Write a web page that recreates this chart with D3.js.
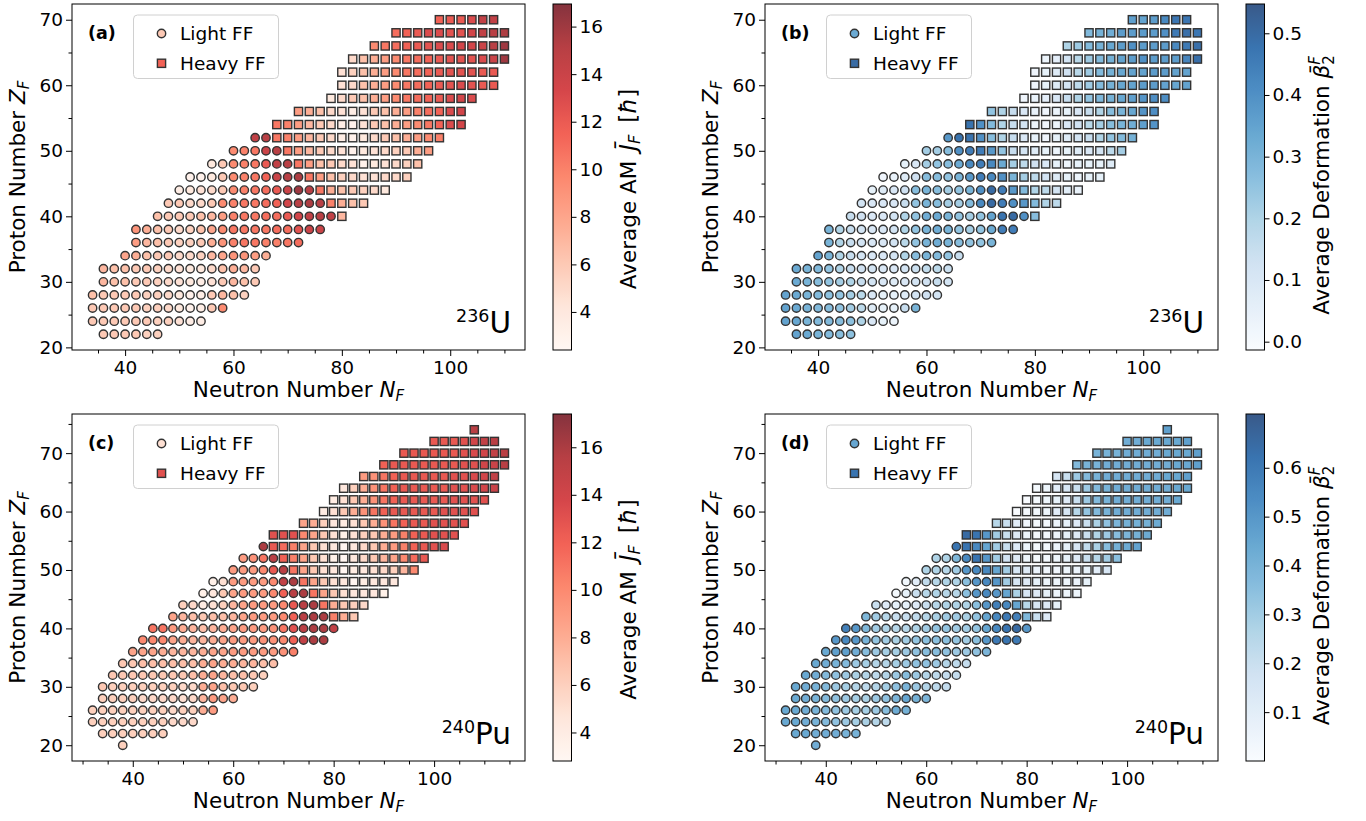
<!DOCTYPE html>
<html><head><meta charset="utf-8">
<script src="https://cdn.jsdelivr.net/npm/d3@7/dist/d3.min.js"></script>
<style>
html,body{margin:0;padding:0;background:#fff;}
svg text{font-family:"DejaVu Sans","Liberation Sans",sans-serif;fill:#000;}
</style></head><body>
<svg id="fig" width="1366" height="821" xmlns="http://www.w3.org/2000/svg"></svg>
<script>
// ================= DATA =================
// each row: [Z, first N, values for N = first N, +2, +4, ...]
// ---- (a) 236U, average angular momentum ----
const lightA = [
 [22,36,[6,6,6,6,5.5,5.5]],
 [24,34,[6,6,6,6,6,6,5.5,5.5,4.5,3.5,3.5]],
 [26,34,[6,6,6,6,6,5.5,5.5,5,4,3,3.5,6,9.5]],
 [28,34,[6.5,6,6,6,6,5.5,5.5,5,4,3,3.5,6,7,6.5,5.5]],
 [30,36,[7,6.5,6.5,6,6,5.5,5,4.5,4,3.5,4.5,6,7,6.5,6]],
 [32,36,[7,6.5,6.5,6,6,5.5,5,4.5,4,4,5,6.5,7.5,7,6]],
 [34,40,[8,7.5,6.5,6,6,5,5,5.5,7,8,9,9,8.5,7.5]],
 [36,42,[8.5,7,6.5,6,5.5,5.5,6,7.5,9,10,10.5,10.5,10,10,10.5,11]],
 [38,42,[9,7.5,6.5,6,5,5.5,6.5,8,9.5,10.5,10.5,10.5,10.5,11,11,12.5,14,14]],
 [40,46,[6.5,6,6,6,6.5,7,8.5,10,10.5,10.5,11,11,12,13.5,14.5,15,14.5]],
 [42,48,[6,6,5,5,6,9.5,10,10.5,10.5,11,11.5,13.5,15,15.5,15]],
 [44,50,[3.5,4,4.5,5,6,9.5,10,10.5,11,12,14,16,15]],
 [46,52,[3,3,4,6,9.5,10,10.5,11.5,14,15,15.5]],
 [48,56,[4,6,9.5,10,10.5,12,14.5,15]],
 [50,60,[9.5,10,10.5,14,15]],
 [52,64,[14.5,15]]
];
const heavyA = [
 [70,98,[11.5,12,12,13,14.5,14.5]],
 [68,90,[11,11.5,12,13,13,12.5,12.5,13.5,14.5,15,15.5]],
 [66,86,[9.5,10.5,11,11.5,12,12.5,13,13,13.5,13.5,14,15,16]],
 [64,82,[5,6.5,7.5,8.5,9.5,10.5,11,11.5,12,12.5,12.5,12.5,13,14,16]],
 [62,80,[4.5,5.5,6.5,7.5,8.5,9.5,10.5,11,11.5,12,12.5,12.5,12.5,12,12]],
 [60,80,[4.5,5,6.5,7.5,8.5,9.5,10.5,11,11.5,12,12.5,13,12.5,12,12]],
 [58,78,[4,5,6,6.5,7.5,8.5,9.5,10.5,11,11.5,12,13,13.5,13]],
 [56,72,[8.5,7.5,6.5,5,4.5,3.5,4.5,6,6.5,7.5,8.5,10,11,11.5,13,13.5]],
 [54,68,[10.5,10,8.5,7,6,5,3.5,3,4.5,6,6.5,7.5,8.5,9.5,10.5,11.5,13,13.5]],
 [52,68,[10.5,10,8.5,7,6,5,3.5,3,4,5,6,6.5,7.5,8.5,9.5,10]],
 [50,70,[10.5,8.5,7,6,5,4.5,3,4,4.5,5,5.5,6,7.5,8.5]],
 [48,72,[10.5,8.5,6.5,6,5,4.5,3,4,4.5,5,5.5,6.5]],
 [46,74,[10.5,8.5,6.5,5.5,5,4.5,4.5,5,5,5.5]],
 [44,76,[10.5,7.5,6.5,6,5.5,5,4]],
 [42,78,[10,7.5,6.5,6]],
 [40,80,[7]]
];
// ---- (b) 236U, average deformation ----
const lightB = [
 [22,36,[0.35,0.33,0.3,0.28,0.27,0.26]],
 [24,34,[0.35,0.34,0.3,0.28,0.28,0.27,0.26,0.2,0.1,0.05,0.03]],
 [26,34,[0.35,0.33,0.3,0.28,0.27,0.25,0.22,0.17,0.08,0.05,0.05,0.15,0.3]],
 [28,34,[0.35,0.33,0.3,0.28,0.26,0.25,0.22,0.18,0.1,0.05,0.05,0.08,0.12,0.13,0.12]],
 [30,36,[0.33,0.3,0.27,0.25,0.22,0.2,0.15,0.12,0.1,0.08,0.1,0.12,0.13,0.15,0.12]],
 [32,36,[0.33,0.3,0.28,0.25,0.2,0.15,0.13,0.12,0.1,0.1,0.12,0.14,0.16,0.17,0.14]],
 [34,40,[0.35,0.3,0.2,0.15,0.12,0.1,0.1,0.12,0.2,0.27,0.3,0.28,0.25,0.15]],
 [36,42,[0.3,0.2,0.15,0.12,0.1,0.1,0.12,0.18,0.25,0.3,0.32,0.3,0.27,0.25,0.25,0.3]],
 [38,42,[0.3,0.2,0.15,0.12,0.1,0.1,0.12,0.2,0.25,0.3,0.32,0.3,0.25,0.22,0.25,0.33,0.45,0.45]],
 [40,46,[0.15,0.13,0.1,0.1,0.12,0.2,0.25,0.32,0.33,0.3,0.25,0.22,0.25,0.35,0.48,0.5,0.4]],
 [42,48,[0.12,0.1,0.1,0.1,0.15,0.25,0.3,0.27,0.22,0.22,0.28,0.42,0.5,0.45,0.4]],
 [44,50,[0.05,0.08,0.1,0.13,0.27,0.3,0.27,0.22,0.25,0.3,0.4,0.5,0.45]],
 [46,52,[0.02,0.04,0.08,0.13,0.27,0.27,0.25,0.3,0.38,0.45,0.42]],
 [48,56,[0.05,0.1,0.22,0.25,0.27,0.33,0.42,0.45]],
 [50,60,[0.22,0.22,0.27,0.4,0.45]],
 [52,64,[0.38,0.48]]
];
const heavyB = [
 [70,98,[0.36,0.35,0.37,0.42,0.47,0.47]],
 [68,90,[0.28,0.31,0.32,0.37,0.37,0.37,0.37,0.4,0.46,0.49,0.47]],
 [66,86,[0.2,0.23,0.28,0.31,0.34,0.37,0.4,0.37,0.37,0.37,0.42,0.46,0.49]],
 [64,82,[0.03,0.06,0.12,0.18,0.23,0.28,0.31,0.35,0.37,0.4,0.37,0.37,0.37,0.43,0.49]],
 [62,80,[0.02,0.05,0.08,0.13,0.18,0.23,0.28,0.31,0.34,0.35,0.35,0.37,0.37,0.35,0.35]],
 [60,80,[0.02,0.05,0.08,0.12,0.17,0.23,0.28,0.31,0.34,0.35,0.37,0.37,0.35,0.34,0.35]],
 [58,78,[0.02,0.04,0.06,0.1,0.15,0.2,0.25,0.29,0.31,0.34,0.36,0.39,0.41,0.41]],
 [56,72,[0.25,0.2,0.15,0.1,0.04,0.02,0.03,0.05,0.1,0.15,0.2,0.27,0.3,0.34,0.39,0.41]],
 [54,68,[0.48,0.4,0.28,0.2,0.15,0.12,0.03,0.02,0.03,0.1,0.13,0.18,0.22,0.27,0.3,0.32,0.36,0.39]],
 [52,68,[0.48,0.4,0.27,0.2,0.15,0.1,0.05,0.02,0.05,0.08,0.12,0.15,0.2,0.25,0.28,0.31]],
 [50,70,[0.45,0.38,0.25,0.15,0.12,0.08,0.05,0.03,0.05,0.08,0.1,0.12,0.17,0.22]],
 [48,72,[0.42,0.33,0.22,0.17,0.13,0.1,0.05,0.03,0.05,0.05,0.05,0.08]],
 [46,74,[0.4,0.3,0.22,0.17,0.12,0.08,0.05,0.03,0.05,0.05]],
 [44,76,[0.38,0.28,0.2,0.17,0.12,0.07,0.04]],
 [42,78,[0.38,0.28,0.2,0.17]],
 [40,80,[0.27]]
];
// ---- (c) 240Pu, average angular momentum ----
const lightC = [
 [20,38,[6]],
 [22,34,[6,6,6,6,6,6,6]],
 [24,32,[6,6,6,6,6,6,6,6,5.5,5.5,5.5]],
 [26,32,[6,6,6,6,6,6,6,6,5.5,6,6,8,9]],
 [28,34,[6,6,6,6,5.5,5.5,5.5,5.5,5,5.5,7.5,9,8.5,8]],
 [30,34,[6.5,6,6,6,6,6,6,6,5.5,5.5,8,8.5,7,6.5,6.5,6]],
 [32,36,[6.5,6.5,6.5,6.5,6.5,6.5,6.5,6.5,7,8,8.5,7.5,7,7,6.5,6]],
 [34,38,[6.5,6.5,7,7,7,7,7,7,8,8.5,8,8,7.5,7.5,7,7]],
 [36,40,[8.5,8.5,8.5,8,7.5,7.5,7.5,8,8.5,8.5,9,9,9,9,9,9.5,10.5]],
 [38,42,[10,10,10,8.5,8,7.5,7.5,8,8.5,9,9,9,9.5,9.5,10,12,15,16,16]],
 [40,44,[11,11,9,8,7.5,7,7.5,8,8.5,9,9,9,9.5,11,13,15.5,16,16,15]],
 [42,48,[8.5,7.5,7,6.5,7,7,7.5,8.5,9,9,9,10,12,15.5,16,16]],
 [44,50,[6,5.5,4,5,6,7.5,8.5,9,9,9,10,12.5,15.5,16]],
 [46,54,[3.5,4.5,6.5,8.5,9,9,9,10,12,15.5,16]],
 [48,56,[3.5,5,9,9,9,9,10,15,16]],
 [50,60,[9,9,9,10,12.5,15.5]],
 [52,62,[9,9.5,11,15.5]],
 [54,66,[16]]
];
const heavyC = [
 [74,108,[15.5]],
 [72,100,[12.5,12.5,12.5,13,14,15,15.5]],
 [70,94,[12.5,12.5,12.5,12.5,12.5,12.5,13,13.5,14,15,15.5]],
 [68,90,[12,12.5,12.5,12.5,12.5,12.5,12.5,12.5,13,13,14,14.5,15.5]],
 [66,86,[9,9.5,11,12,12.5,12.5,12.5,12.5,12.5,13,13,13.5,14,15]],
 [64,82,[4.5,6,8,9.5,11,12,12.5,12.5,12.5,12.5,12.5,13,13,13.5,14,14.5]],
 [62,80,[4,5,6.5,8,9.5,11,12,12.5,12.5,12.5,12.5,12.5,13,13,13,13]],
 [60,78,[4,5,6.5,8,9.5,11,12,12.5,12.5,12.5,12.5,12.5,13,13,13,13]],
 [58,74,[8.5,8,6,4.5,4,5,6.5,8,9.5,11,12,12.5,12.5,13,13,13,13]],
 [56,68,[13,13,13,10,8.5,6.5,5,3.5,5,6,6.5,8,9,10.5,12,12.5,13,13,13]],
 [54,68,[12.5,11.5,10.5,8.5,6.5,5,4.5,3,4.5,5.5,6.5,8,9,10.5,12,12.5,13,13.5]],
 [52,70,[12,10.5,8.5,6.5,5,3.5,3,4.5,5.5,6.5,7.5,8.5,10,11.5,12.5]],
 [50,72,[11,8.5,6.5,5,4.5,3,4,4.5,5,5.5,6,7.5,10]],
 [48,74,[11,8.5,6.5,5,4.5,3,4,4.5,4.5,4.5]],
 [46,76,[11,8.5,6.5,5,4.5,4.5,4.5,3.5]],
 [44,78,[11,8,6.5,6,5.5]],
 [42,80,[10.5,8,6.5]]
];
// ---- (d) 240Pu, average deformation ----
const lightD = [
 [20,38,[0.42]],
 [22,34,[0.44,0.44,0.42,0.42,0.42,0.4,0.4]],
 [24,32,[0.44,0.44,0.42,0.4,0.37,0.34,0.31,0.29,0.28,0.26,0.23]],
 [26,32,[0.44,0.44,0.42,0.4,0.37,0.34,0.31,0.29,0.29,0.31,0.36,0.43,0.41]],
 [28,34,[0.44,0.42,0.4,0.37,0.34,0.31,0.29,0.28,0.31,0.34,0.39,0.45,0.41,0.39]],
 [30,34,[0.44,0.42,0.4,0.37,0.31,0.29,0.26,0.23,0.26,0.29,0.34,0.39,0.31,0.26,0.23,0.21]],
 [32,36,[0.44,0.42,0.37,0.34,0.31,0.28,0.26,0.23,0.26,0.31,0.36,0.31,0.26,0.23,0.21,0.21]],
 [34,38,[0.44,0.42,0.4,0.37,0.31,0.29,0.26,0.26,0.29,0.31,0.34,0.34,0.31,0.26,0.23,0.21]],
 [36,40,[0.44,0.47,0.47,0.42,0.36,0.31,0.29,0.29,0.31,0.34,0.36,0.36,0.34,0.31,0.31,0.34,0.39]],
 [38,42,[0.5,0.55,0.5,0.4,0.33,0.3,0.28,0.3,0.33,0.35,0.35,0.35,0.33,0.3,0.35,0.5,0.6,0.62,0.6]],
 [40,44,[0.58,0.5,0.38,0.3,0.27,0.25,0.25,0.27,0.3,0.33,0.33,0.3,0.3,0.33,0.45,0.55,0.62,0.65,0.5]],
 [42,48,[0.38,0.3,0.25,0.2,0.2,0.22,0.25,0.28,0.3,0.3,0.28,0.33,0.45,0.55,0.6,0.58]],
 [44,50,[0.2,0.12,0.08,0.08,0.12,0.2,0.25,0.27,0.27,0.27,0.35,0.5,0.58,0.55]],
 [46,54,[0.02,0.08,0.2,0.25,0.27,0.25,0.25,0.35,0.5,0.55,0.5]],
 [48,56,[0.03,0.1,0.22,0.25,0.27,0.27,0.35,0.5,0.55]],
 [50,60,[0.27,0.27,0.25,0.3,0.5,0.55]],
 [52,62,[0.27,0.27,0.38,0.55]],
 [54,66,[0.62]]
];
const heavyD = [
 [74,108,[0.47]],
 [72,100,[0.42,0.42,0.44,0.44,0.44,0.44,0.47]],
 [70,94,[0.4,0.4,0.4,0.42,0.42,0.42,0.42,0.44,0.44,0.44,0.47]],
 [68,90,[0.37,0.4,0.4,0.42,0.42,0.42,0.42,0.42,0.42,0.42,0.44,0.44,0.47]],
 [66,86,[0.15,0.2,0.31,0.37,0.4,0.42,0.42,0.42,0.42,0.42,0.42,0.44,0.44,0.47]],
 [64,82,[0.02,0.05,0.1,0.15,0.2,0.31,0.37,0.4,0.42,0.42,0.42,0.42,0.42,0.42,0.44,0.44]],
 [62,80,[0.0,0.02,0.05,0.08,0.12,0.2,0.31,0.37,0.4,0.42,0.42,0.42,0.42,0.42,0.42,0.44]],
 [60,78,[0.0,0.02,0.03,0.05,0.1,0.15,0.25,0.33,0.37,0.4,0.42,0.42,0.42,0.42,0.42,0.42]],
 [58,74,[0.25,0.2,0.1,0.04,0.02,0.02,0.05,0.08,0.12,0.2,0.28,0.34,0.39,0.41,0.41,0.41,0.43]],
 [56,68,[0.65,0.62,0.5,0.3,0.2,0.12,0.05,0.02,0.02,0.05,0.08,0.12,0.2,0.27,0.31,0.36,0.39,0.41,0.43]],
 [54,68,[0.62,0.55,0.45,0.3,0.2,0.12,0.05,0.02,0.02,0.05,0.08,0.15,0.22,0.28,0.36,0.41,0.43,0.46]],
 [52,70,[0.62,0.5,0.3,0.18,0.12,0.05,0.02,0.03,0.05,0.08,0.12,0.2,0.25,0.3,0.35]],
 [50,72,[0.55,0.45,0.3,0.15,0.12,0.06,0.04,0.04,0.05,0.06,0.08,0.1,0.15]],
 [48,74,[0.5,0.3,0.15,0.12,0.08,0.05,0.05,0.05,0.06,0.08]],
 [46,76,[0.45,0.28,0.15,0.12,0.08,0.05,0.05,0.05]],
 [44,78,[0.45,0.25,0.15,0.12,0.08]],
 [42,80,[0.38,0.2,0.12]]
];
// colour-bar ranges and ticks
const cbRangeA=[2.4,16.95], cbTicksA=[4,6,8,10,12,14,16];
const cbRangeB=[-0.0135,0.5475], cbTicksB=[0,0.1,0.2,0.3,0.4,0.5];
const cbRangeC=[2.8,17.4], cbTicksC=[4,6,8,10,12,14,16];
const cbRangeD=[0.0,0.71], cbTicksD=[0.1,0.2,0.3,0.4,0.5,0.6];
const xMajorTicks=[40,60,80,100];
const yMajorTicks=[20,30,40,50,60,70];
const panelLetters=['(a)','(b)','(c)','(d)'];
const nuclei=[['236','U'],['236','U'],['240','Pu'],['240','Pu']];
const legendLabels=['Light FF','Heavy FF'];
const legendValsA=[6,11.5], legendValsB=[0.33,0.5], legendValsC=[5,13], legendValsD=[0.45,0.62];

// ================= DRAWING =================
const svg=d3.select('#fig');
const defs=svg.append('defs');
const EDGE='#333';
const SW=1.4;

function cmapFn(scheme,dom){
  const n=scheme.length;
  const s=d3.scaleLinear().domain(d3.range(n).map(i=>dom[0]+i*(dom[1]-dom[0])/(n-1))).range(scheme).clamp(true);
  return v=>d3.interpolateRgb('#ffffff',s(v))(0.8);
}
function expand(rows){const out=[];rows.forEach(([z,n0,vals])=>vals.forEach((v,i)=>out.push({Z:z,N:n0+2*i,v})));return out;}
function styleAxis(sel,fs){
  sel.attr('font-size',null).attr('font-family',null);
  sel.select('.domain').remove();
  sel.selectAll('.tick line').attr('stroke','#000').attr('stroke-width',1);
  sel.selectAll('.tick text').attr('font-size',fs).attr('fill','#000');
}
function minorOf(dom,step,majors){
  const a=Math.ceil(dom[0]/step)*step, out=[];
  for(let t=a;t<=dom[1];t+=step){ if(!majors.includes(t)) out.push(t);} return out;
}

const panels=[
 {light:lightA,heavy:heavyA,scheme:d3.schemeReds[9],cb:cbRangeA,cbT:cbTicksA,col:0,row:0,leg:legendValsA,kind:'J',fmt:d3.format('d')},
 {light:lightB,heavy:heavyB,scheme:d3.schemeBlues[9],cb:cbRangeB,cbT:cbTicksB,col:1,row:0,leg:legendValsB,kind:'B',fmt:d3.format('.1f')},
 {light:lightC,heavy:heavyC,scheme:d3.schemeReds[9],cb:cbRangeC,cbT:cbTicksC,col:0,row:1,leg:legendValsC,kind:'J',fmt:d3.format('d')},
 {light:lightD,heavy:heavyD,scheme:d3.schemeBlues[9],cb:cbRangeD,cbT:cbTicksD,col:1,row:1,leg:legendValsD,kind:'B',fmt:d3.format('.1f')}
];

panels.forEach((p,pi)=>{
  const dx=p.col?693:0;
  const L=72+dx, R=525+dx;
  const T=p.row?414:4, B=p.row?761:350;
  const light=expand(p.light), heavy=expand(p.heavy), all=light.concat(heavy);
  const ne=d3.extent(all,d=>d.N), ze=d3.extent(all,d=>d.Z);
  const px=(ne[1]-ne[0])*0.05, pz=(ze[1]-ze[0])*0.05;
  const xd=[ne[0]-px,ne[1]+px], yd=[ze[0]-pz,ze[1]+pz];
  const x=d3.scaleLinear().domain(xd).range([L,R]);
  const y=d3.scaleLinear().domain(yd).range([B,T]);
  const color=cmapFn(p.scheme,p.cb);
  const g=svg.append('g');

  // markers
  g.append('g').selectAll('circle').data(light).join('circle')
    .attr('cx',d=>x(d.N)).attr('cy',d=>y(d.Z)).attr('r',4.2)
    .attr('fill',d=>color(d.v)).attr('stroke',EDGE).attr('stroke-width',SW);
  g.append('g').selectAll('rect').data(heavy).join('rect')
    .attr('x',d=>x(d.N)-4.1).attr('y',d=>y(d.Z)-4.1).attr('width',8.2).attr('height',8.2)
    .attr('fill',d=>color(d.v)).attr('stroke',EDGE).attr('stroke-width',SW);

  // frame
  g.append('rect').attr('x',L).attr('y',T).attr('width',R-L).attr('height',B-T)
    .attr('fill','none').attr('stroke','#000').attr('stroke-width',1);

  // axes
  const xa=g.append('g').attr('transform',`translate(0,${B})`)
    .call(d3.axisBottom(x).tickValues(xMajorTicks).tickSize(6).tickPadding(5).tickFormat(d3.format('d')));
  styleAxis(xa,18.5);
  const xm=g.append('g').attr('transform',`translate(0,${B})`)
    .call(d3.axisBottom(x).tickValues(minorOf(xd,5,xMajorTicks)).tickSize(3.5).tickFormat(''));
  styleAxis(xm,0);
  const ya=g.append('g').attr('transform',`translate(${L},0)`)
    .call(d3.axisLeft(y).tickValues(yMajorTicks).tickSize(6).tickPadding(3).tickFormat(d3.format('d')));
  styleAxis(ya,18.5);
  const ym=g.append('g').attr('transform',`translate(${L},0)`)
    .call(d3.axisLeft(y).tickValues(minorOf(yd,5,yMajorTicks)).tickSize(3.5).tickFormat(''));
  styleAxis(ym,0);

  // axis labels
  const xl=g.append('text').attr('x',(L+R)/2).attr('y',B+47).attr('text-anchor','middle').attr('font-size',21.5);
  xl.append('tspan').text('Neutron Number ');
  xl.append('tspan').attr('font-style','italic').text('N');
  xl.append('tspan').attr('font-style','italic').attr('font-size',15).attr('dy',4).text('F');
  const yl=g.append('text').attr('transform',`translate(${L-47},${(T+B)/2}) rotate(-90)`).attr('text-anchor','middle').attr('font-size',21.5);
  yl.append('tspan').text('Proton Number ');
  yl.append('tspan').attr('font-style','italic').text('Z');
  yl.append('tspan').attr('font-style','italic').attr('font-size',15).attr('dy',4).text('F');

  // panel letter
  g.append('text').attr('x',L+16).attr('y',T+35).attr('font-size',17.5).attr('font-weight','bold').text(panelLetters[pi]);

  // nucleus label
  const nl=g.append('text').attr('x',R-14).attr('y',B-17).attr('text-anchor','end');
  nl.append('tspan').attr('font-size',17.5).attr('dy',-11.5).text(nuclei[pi][0]);
  nl.append('tspan').attr('font-size',29.5).attr('dy',11.5).text(nuclei[pi][1]);

  // legend
  const lg=g.append('g');
  lg.append('rect').attr('x',L+61.5).attr('y',T+11).attr('width',145).attr('height',63.5).attr('rx',4)
    .attr('fill','#fff').attr('fill-opacity',0.8).attr('stroke','#d0d0d0').attr('stroke-width',1);
  lg.append('circle').attr('cx',L+89.5).attr('cy',T+29.5).attr('r',4.2)
    .attr('fill',color(p.leg[0])).attr('stroke',EDGE).attr('stroke-width',SW);
  lg.append('rect').attr('x',L+89.5-4.1).attr('y',T+59.3-4.1).attr('width',8.2).attr('height',8.2)
    .attr('fill',color(p.leg[1])).attr('stroke',EDGE).attr('stroke-width',SW);
  lg.append('text').attr('x',L+108).attr('y',T+36).attr('font-size',18.5).text(legendLabels[0]);
  lg.append('text').attr('x',L+108).attr('y',T+66).attr('font-size',18.5).text(legendLabels[1]);

  // colour bar
  const cx0=553+dx, cw=18.5;
  const gid='grad'+pi;
  const gr=defs.append('linearGradient').attr('id',gid).attr('x1',0).attr('y1',1).attr('x2',0).attr('y2',0);
  d3.range(0,1.0001,0.025).forEach(t=>{
    gr.append('stop').attr('offset',t).attr('stop-color',color(p.cb[0]+t*(p.cb[1]-p.cb[0])));
  });
  g.append('rect').attr('x',cx0).attr('y',T).attr('width',cw).attr('height',B-T)
    .attr('fill',`url(#${gid})`).attr('stroke','#000').attr('stroke-width',1);
  const cs=d3.scaleLinear().domain(p.cb).range([B,T]);
  const ca=g.append('g').attr('transform',`translate(${cx0+cw},0)`)
    .call(d3.axisRight(cs).tickValues(p.cbT).tickSize(5).tickPadding(3).tickFormat(p.fmt));
  styleAxis(ca,18.5);

  // colour bar label
  if(p.kind==='J'){
    const cl=g.append('text').attr('transform',`translate(${cx0+83},${(T+B)/2+12}) rotate(-90)`)
      .attr('text-anchor','middle').attr('font-size',21.5);
    cl.append('tspan').text('Average AM');
    cl.append('tspan').attr('dx',10).attr('font-style','italic').attr('font-size',23).text('J\u0304');
    cl.append('tspan').attr('font-style','italic').attr('font-size',16).attr('dy',4).text('F');
    cl.append('tspan').attr('dx',12).attr('dy',-4).attr('font-size',23).text('[');
    cl.append('tspan').attr('font-style','italic').attr('font-size',23).text('\u0127');
    cl.append('tspan').attr('font-size',23).text(']');
  } else {
    const cl=g.append('text').attr('transform',`translate(${cx0+83},${(T+B)/2+8}) rotate(-90)`)
      .attr('text-anchor','middle').attr('font-size',21.5);
    cl.append('tspan').text('Average Deformation ');
    cl.append('tspan').attr('font-style','italic').text('\u03B2\u0304');
    cl.append('tspan').attr('font-size',15).attr('dy',5).text('2');
    cl.append('tspan').attr('font-style','italic').attr('font-size',15).attr('dx',-9.5).attr('dy',-14).text('F');
  }
});
</script>
</body></html>
